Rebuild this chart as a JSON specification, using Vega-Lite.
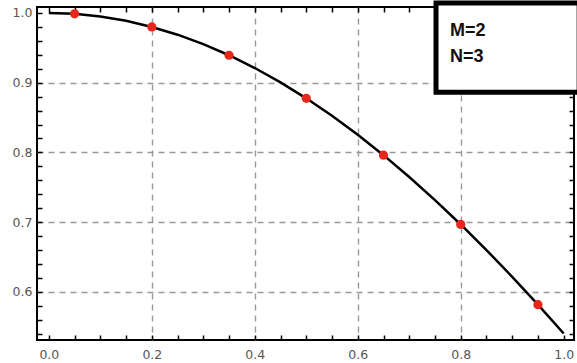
{
  "$schema": "https://vega.github.io/schema/vega-lite/v6.json",
  "width": 537,
  "height": 333,
  "autosize": {"type": "none"},
  "padding": {"left": 37, "top": 7, "right": 3, "bottom": 23},
  "background": "white",
  "config": {
    "view": {"stroke": "black", "strokeWidth": 2},
    "axis": {
      "labelFont": "DejaVu Sans",
      "labelFontSize": 12.5,
      "labelColor": "#555",
      "tickColor": "black",
      "tickWidth": 1.5,
      "domain": false,
      "gridColor": "#999",
      "gridDash": [6, 5],
      "gridWidth": 1.4,
      "title": null
    }
  },
  "datasets": {
    "curve": [
      {"x": 0.0, "y": 1.0}, {"x": 0.05, "y": 0.9988}, {"x": 0.1, "y": 0.995},
      {"x": 0.15, "y": 0.9888}, {"x": 0.2, "y": 0.980}, {"x": 0.25, "y": 0.9689},
      {"x": 0.3, "y": 0.9553}, {"x": 0.35, "y": 0.9394}, {"x": 0.4, "y": 0.9211},
      {"x": 0.45, "y": 0.9004}, {"x": 0.5, "y": 0.8776}, {"x": 0.55, "y": 0.8525},
      {"x": 0.6, "y": 0.8253}, {"x": 0.65, "y": 0.7961}, {"x": 0.7, "y": 0.7648},
      {"x": 0.75, "y": 0.7317}, {"x": 0.8, "y": 0.6967}, {"x": 0.85, "y": 0.66},
      {"x": 0.9, "y": 0.6216}, {"x": 0.95, "y": 0.5817}, {"x": 1.0, "y": 0.5403}
    ],
    "points": [
      {"x": 0.05, "y": 0.9988}, {"x": 0.2, "y": 0.98}, {"x": 0.35, "y": 0.9394},
      {"x": 0.5, "y": 0.8776}, {"x": 0.65, "y": 0.7961}, {"x": 0.8, "y": 0.6967},
      {"x": 0.95, "y": 0.5817}
    ],
    "box": [{"x": 0.752, "x2": 1.03, "y": 0.8865, "y2": 1.0144}],
    "labels": [
      {"x": 0.779, "y": 0.967, "t": "M=2"},
      {"x": 0.779, "y": 0.9295, "t": "N=3"}
    ]
  },
  "layer": [
    {
      "data": {"name": "curve"},
      "mark": {"type": "line", "color": "black", "strokeWidth": 2.5},
      "encoding": {
        "x": {
          "field": "x", "type": "quantitative",
          "scale": {"domain": [-0.023, 1.02], "nice": false, "zero": false},
          "axis": {
            "orient": "bottom",
            "values": [0, 0.05, 0.1, 0.15, 0.2, 0.25, 0.3, 0.35, 0.4, 0.45, 0.5, 0.55, 0.6, 0.65, 0.7, 0.75, 0.8, 0.85, 0.9, 0.95, 1.0],
            "labelExpr": "(round(datum.value*100) % 20 == 0) ? format(datum.value, '.1f') : ''",
            "tickSize": -5,
            "labelPadding": 13,
            "grid": true,
            "gridOpacity": {"condition": {"test": "round(datum.value*100) % 20 == 0 && datum.value > 0.01 && datum.value < 0.99", "value": 1}, "value": 0}
          }
        },
        "y": {
          "field": "y", "type": "quantitative",
          "scale": {"domain": [0.531, 1.0086], "nice": false, "zero": false},
          "axis": {
            "orient": "left",
            "values": [0.54, 0.56, 0.58, 0.6, 0.62, 0.64, 0.66, 0.68, 0.7, 0.72, 0.74, 0.76, 0.78, 0.8, 0.82, 0.84, 0.86, 0.88, 0.9, 0.92, 0.94, 0.96, 0.98, 1.0],
            "labelExpr": "(round(datum.value*100) % 10 == 0) ? format(datum.value, '.1f') : ''",
            "tickSize": -5,
            "labelPadding": 10,
            "grid": true,
            "gridOpacity": {"condition": {"test": "round(datum.value*100) % 10 == 0 && datum.value < 0.99", "value": 1}, "value": 0}
          }
        }
      }
    },
    {
      "data": {"name": "points"},
      "mark": {"type": "circle", "color": "#e8261c", "opacity": 1, "size": 85},
      "encoding": {
        "x": {"field": "x", "type": "quantitative",
          "axis": {"orient": "top", "values": [0, 0.05, 0.1, 0.15, 0.2, 0.25, 0.3, 0.35, 0.4, 0.45, 0.5, 0.55, 0.6, 0.65, 0.7, 0.75, 0.8, 0.85, 0.9, 0.95, 1.0], "labels": false, "tickSize": -5, "grid": false}},
        "y": {"field": "y", "type": "quantitative",
          "axis": {"orient": "right", "values": [0.54, 0.56, 0.58, 0.6, 0.62, 0.64, 0.66, 0.68, 0.7, 0.72, 0.74, 0.76, 0.78, 0.8, 0.82, 0.84, 0.86, 0.88, 0.9, 0.92, 0.94, 0.96, 0.98, 1.0], "labels": false, "tickSize": -5, "grid": false}}
      }
    },
    {
      "data": {"name": "box"},
      "mark": {"type": "rect", "fill": "white", "stroke": "black", "strokeWidth": 5},
      "encoding": {
        "x": {"field": "x", "type": "quantitative", "axis": null},
        "x2": {"field": "x2"},
        "y": {"field": "y", "type": "quantitative", "axis": null},
        "y2": {"field": "y2"}
      }
    },
    {
      "data": {"name": "labels"},
      "mark": {"type": "text", "align": "left", "baseline": "alphabetic", "font": "Liberation Sans", "fontSize": 18, "fontWeight": "bold", "color": "#111"},
      "encoding": {
        "x": {"field": "x", "type": "quantitative", "axis": null},
        "y": {"field": "y", "type": "quantitative", "axis": null},
        "text": {"field": "t"}
      }
    }
  ]
}
